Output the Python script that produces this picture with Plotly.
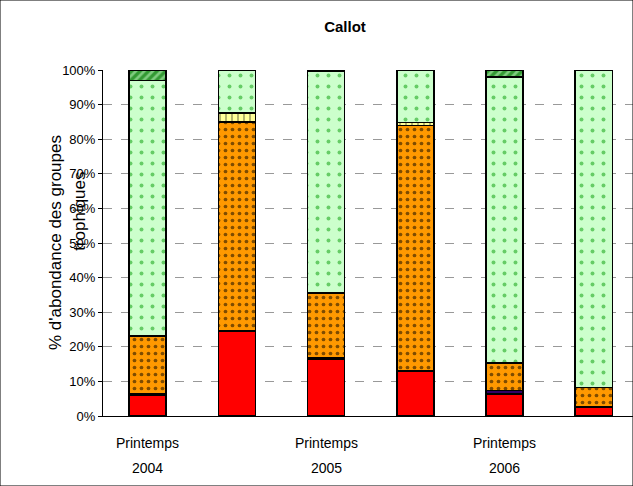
import plotly.graph_objects as go

# Six sampling dates (spring 2004 to spring 2006), stacked percentage per trophic group
positions = [0, 1, 2, 3, 4, 5]
label_positions = [0, 2, 4]
label_seasons = ["Printemps", "Printemps", "Printemps"]
label_years = ["2004", "2005", "2006"]

rouge = [6.0, 24.5, 16.3, 13.0, 6.4, 2.6]
bleu_fonce = [0.5, 0.0, 0.4, 0.0, 0.9, 0.0]
orange = [16.5, 60.5, 18.7, 71.0, 8.0, 5.6]
jaune = [0.3, 2.6, 0.2, 0.8, 0.1, 0.0]
vert_clair = [73.7, 12.4, 64.0, 15.2, 82.6, 91.8]
vert_raye = [3.0, 0.0, 0.4, 0.0, 2.0, 0.0]

layers = [
    (rouge, "#FF0000", None),
    (bleu_fonce, "#330066", None),
    (orange, "#FF9900", dict(shape=".", fgcolor="#000000", bgcolor="#FF9900",
                             fillmode="overlay", size=7, solidity=0.22)),
    (jaune, "#FFFF99", dict(shape="|", fgcolor="#000000", bgcolor="#FFFF99",
                            fillmode="overlay", size=6, solidity=0.2)),
    (vert_clair, "#CCFFCC", dict(shape=".", fgcolor="#009900", bgcolor="#CCFFCC",
                                 fillmode="overlay", size=11, solidity=0.1)),
    (vert_raye, "#339933", dict(shape="/", fgcolor="#CCFFCC", bgcolor="#339933",
                                fillmode="overlay", size=6, solidity=0.45)),
]

fig = go.Figure()
for vals, color, pattern in layers:
    marker = dict(color=color, line=dict(color="#000000", width=1.5))
    if pattern:
        marker["pattern"] = pattern
    fig.add_trace(go.Bar(x=positions, y=vals, width=0.415, marker=marker,
                         showlegend=False, hoverinfo="skip"))

annotations = []
for pos, season, year in zip(label_positions, label_seasons, label_years):
    annotations.append(dict(x=pos, xref="x", y=-27 / 346, yref="paper", text=season,
                            showarrow=False, xanchor="center", yanchor="middle",
                            font=dict(size=14)))
    annotations.append(dict(x=pos, xref="x", y=-52 / 346, yref="paper", text=year,
                            showarrow=False, xanchor="center", yanchor="middle",
                            font=dict(size=14)))
# two-line rotated axis title
annotations.append(dict(x=-48 / 530, xref="paper", y=0.5, yref="paper",
                        text="% d'abondance des groupes", textangle=-90,
                        showarrow=False, xanchor="center", yanchor="middle",
                        font=dict(size=17)))
annotations.append(dict(x=-23 / 530, xref="paper", y=0.59, yref="paper",
                        text="trophiques", textangle=-90,
                        showarrow=False, xanchor="center", yanchor="middle",
                        font=dict(size=17)))

fig.update_layout(
    barmode="stack",
    width=633, height=486,
    margin=dict(l=103, r=0, t=70, b=70),
    paper_bgcolor="white", plot_bgcolor="white",
    font=dict(family="Arial, Liberation Sans, sans-serif", color="#000000", size=13),
    title=dict(text="<b>Callot</b>", x=0.545, xanchor="center", y=0.945, yanchor="middle",
               font=dict(size=15)),
    xaxis=dict(range=[-0.5, 5.44], showticklabels=False,
               showline=True, linecolor="#000000", linewidth=1, ticks="",
               showgrid=False, zeroline=False),
    yaxis=dict(range=[0, 100], tickvals=list(range(0, 101, 10)),
               ticktext=[f"{v}%" for v in range(0, 101, 10)],
               ticks="outside", ticklen=4, tickcolor="#000000",
               showline=True, linecolor="#000000", linewidth=1,
               showgrid=True, gridcolor="#999999", griddash="dash", gridwidth=1,
               zeroline=False, tickfont=dict(size=13)),
    annotations=annotations,
    shapes=[dict(type="rect", xref="paper", yref="paper", x0=-103/530, x1=1.0,
                 y0=-70/346, y1=1 + 70/346,
                 line=dict(color="#000000", width=1), fillcolor="rgba(0,0,0,0)")],
)

fig.write_html("out.html")
